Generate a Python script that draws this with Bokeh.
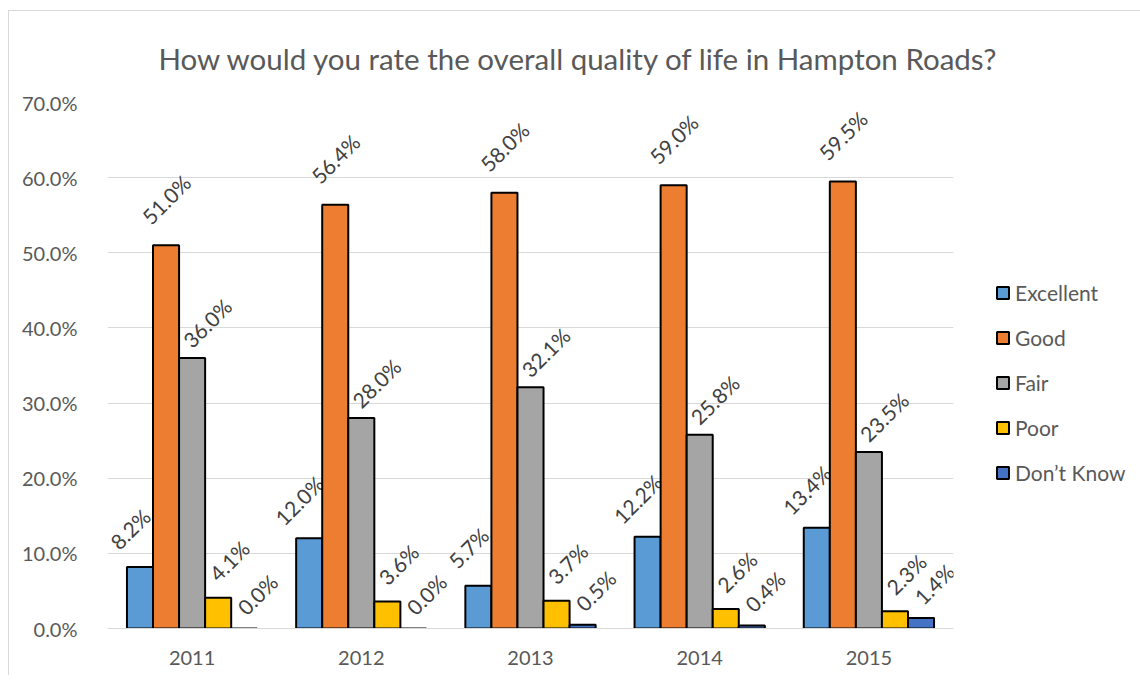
import math
from bokeh.plotting import figure
from bokeh.models import (ColumnDataSource, FactorRange, NumeralTickFormatter,
                          FixedTicker, Legend, LegendItem)
from bokeh.transform import dodge
from bokeh.core.properties import value
from bokeh.embed import file_html
from bokeh.resources import INLINE

title_text = "How would you rate the overall quality of life in Hampton Roads?"
years = ["2011", "2012", "2013", "2014", "2015"]
series_names = ["Excellent", "Good", "Fair", "Poor", "Don\u2019t Know"]
excellent = [0.082, 0.120, 0.057, 0.122, 0.134]
good = [0.510, 0.564, 0.580, 0.590, 0.595]
fair = [0.360, 0.280, 0.321, 0.258, 0.235]
poor = [0.041, 0.036, 0.037, 0.026, 0.023]
dont_know = [0.000, 0.000, 0.005, 0.004, 0.014]
y_ticks = [0.0, 0.1, 0.2, 0.3, 0.4, 0.5, 0.6, 0.7]

series_values = [excellent, good, fair, poor, dont_know]
colors = ["#5B9BD5", "#ED7D31", "#A5A5A5", "#FFC000", "#4472C4"]
# label offsets (screen px) per series, mimicking Excel's placement
label_dx = [-10, 0, 15, 11, 13]
label_dy = [-38, -46, -35, -37, -34]

FONT = "Lato"
bar_w = 0.154

p = figure(x_range=FactorRange(factors=years, range_padding=0),
           y_range=(0, 0.70), frame_width=846, frame_height=526,
           output_backend="svg", toolbar_location=None,
           min_border_left=98, min_border_right=177,
           min_border_top=89, min_border_bottom=47,
           styles={"margin-left": "8px", "margin-top": "10px",
                   "border-top": "1px solid #D9D9D9",
                   "border-left": "1px solid #D9D9D9"})
p.outline_line_color = None

p.title.text = title_text
p.title.align = "left"
p.title.text_font = FONT
p.title.text_font_size = "29.5px"
p.title.text_font_style = "normal"
p.title.text_color = "#595959"
p.title.standoff = 54
p.title.offset = 51

legend_items = []
for i, (name, vals) in enumerate(zip(series_names, series_values)):
    src = ColumnDataSource(dict(
        year=years, val=vals,
        lab=["{:.1f}%".format(v * 100) for v in vals]))
    off = (i - 2) * bar_w
    r = p.vbar(x=dodge("year", off, range=p.x_range), top="val", width=bar_w,
               source=src, fill_color=colors[i], line_color="black",
               line_width=2)
    legend_items.append(LegendItem(label=name, renderers=[r]))
    p.text(x=dodge("year", off, range=p.x_range), y="val", text="lab",
           source=src, angle=math.pi / 4, text_align="center",
           text_baseline="middle", x_offset=label_dx[i], y_offset=label_dy[i],
           text_font=value(FONT), text_font_size="21px", text_color="#404040")

p.yaxis.ticker = FixedTicker(ticks=y_ticks)
p.yaxis.formatter = NumeralTickFormatter(format="0.0%")
p.yaxis.axis_line_color = None
p.yaxis.major_tick_line_color = None
p.yaxis.minor_tick_line_color = None
p.yaxis.major_tick_out = 0
p.yaxis.major_label_standoff = 30
p.yaxis.major_label_text_font = FONT
p.yaxis.major_label_text_font_size = "20px"
p.yaxis.major_label_text_color = "#595959"

p.xaxis.axis_line_color = "#D9D9D9"
p.xaxis.axis_line_width = 1
p.xaxis.major_tick_line_color = None
p.xaxis.minor_tick_line_color = None
p.xaxis.major_tick_out = 0
p.xaxis.major_label_standoff = 22
p.xaxis.major_label_text_font = FONT
p.xaxis.major_label_text_font_size = "20px"
p.xaxis.major_label_text_color = "#595959"

p.xgrid.grid_line_color = None
p.ygrid.grid_line_color = "#D9D9D9"
p.ygrid.grid_line_width = 1

legend = Legend(items=legend_items, location=(42, 143),
                orientation="vertical")
legend.label_text_font = FONT
legend.label_text_font_size = "21px"
legend.label_text_color = "#595959"
legend.glyph_width = 15
legend.glyph_height = 15
legend.label_standoff = 5
legend.label_height = 20
legend.spacing = 20
legend.border_line_color = None
legend.background_fill_alpha = 0
legend.margin = 0
legend.padding = 0
p.add_layout(legend, "right")

open("out.html", "w").write(file_html(p, INLINE))
